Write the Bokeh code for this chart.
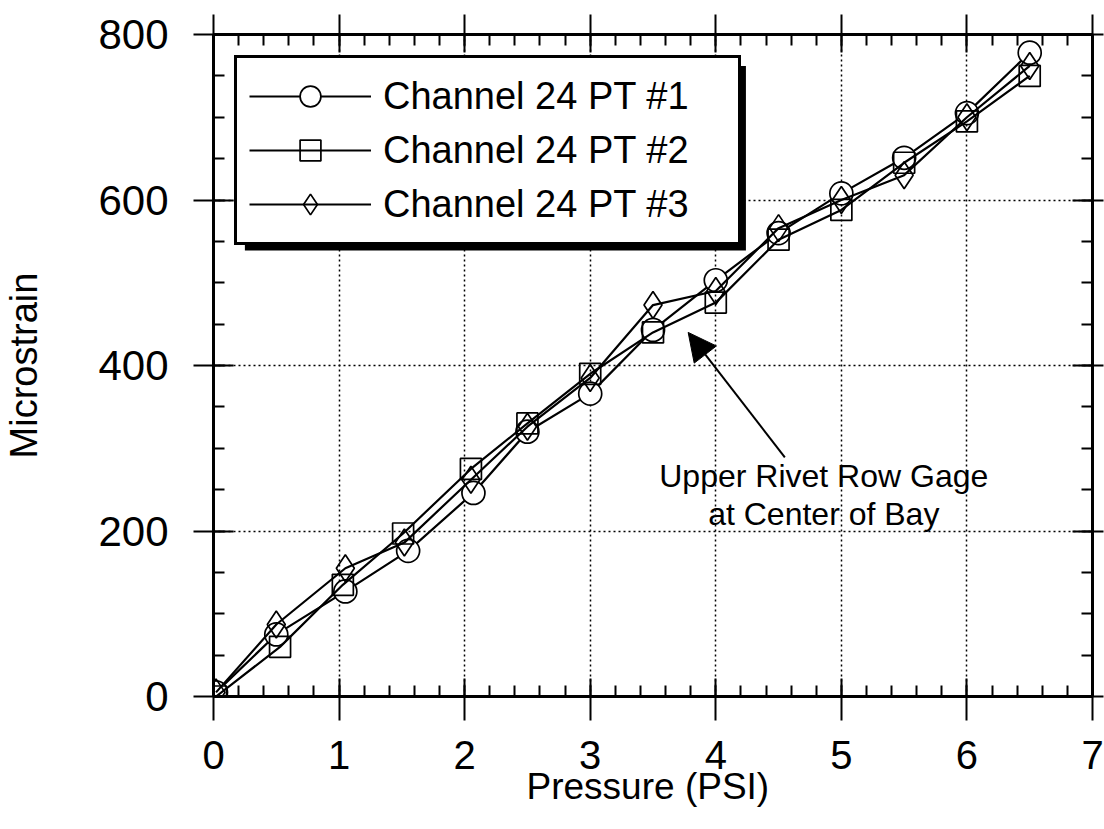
import numpy as np
from bokeh.plotting import figure
from bokeh.models import (LinearAxis, SingleIntervalTicker, Range1d, Legend, LegendItem,
                          Arrow, NormalHead, BoxAnnotation, Label, Grid, CustomJSTickFormatter)
from bokeh.embed import file_html
from bokeh.resources import INLINE

FONT = "Liberation Sans"

# ---- data ----
series_labels = ["Channel 24 PT #1", "Channel 24 PT #2", "Channel 24 PT #3"]

pressure_pt1 = [0.02, 0.50, 1.05, 1.55, 2.07, 2.50, 3.00, 3.50, 4.00, 4.50, 5.00, 5.50, 6.00, 6.50]
strain_pt1 = [5, 75, 127, 176, 246, 320, 366, 443, 503, 560, 608, 651, 705, 778]

pressure_pt2 = [0.02, 0.53, 1.03, 1.51, 2.05, 2.50, 3.00, 3.50, 4.00, 4.50, 5.00, 5.50, 6.00, 6.50]
strain_pt2 = [0, 60, 135, 197, 275, 330, 390, 440, 476, 552, 588, 645, 695, 750]

pressure_pt3 = [0.02, 0.50, 1.05, 1.52, 2.05, 2.50, 3.00, 3.50, 4.00, 4.50, 5.00, 5.50, 6.00, 6.50]
strain_pt3 = [5, 87, 155, 186, 262, 326, 385, 473, 490, 566, 600, 630, 700, 762]

x_major = 1
y_major = 200

annotation_lines = ["Upper Rivet Row Gage", "at Center of Bay"]

p = figure(width=1104, height=829, output_backend="svg", toolbar_location=None,
           x_range=Range1d(0, 7), y_range=Range1d(0, 800),
           x_axis_type=None, y_axis_type=None,
           min_border_left=213, min_border_right=12, min_border_top=34, min_border_bottom=133)
p.outline_line_color = "black"
p.outline_line_width = 3
p.background_fill_color = "white"
p.border_fill_color = "white"

xt = SingleIntervalTicker(interval=x_major, num_minor_ticks=5)
yt = SingleIntervalTicker(interval=y_major, num_minor_ticks=4)
blank = CustomJSTickFormatter(code="return '';")


def style_axis(ax, tin, tout):
    ax.axis_line_width = 3
    ax.axis_line_color = "black"
    ax.major_tick_line_width = 2
    ax.minor_tick_line_width = 2
    ax.major_tick_in = tin
    ax.major_tick_out = tout
    ax.minor_tick_in = 11
    ax.minor_tick_out = 0
    ax.major_label_text_font = FONT
    ax.major_label_text_color = "black"
    ax.axis_label_text_font = FONT
    ax.axis_label_text_font_style = "normal"
    ax.axis_label_text_color = "black"


bottom = LinearAxis(ticker=xt, axis_label="Pressure  (PSI)")
style_axis(bottom, 18, 24)
bottom.major_label_text_font_size = "40px"
bottom.major_label_standoff = 20
bottom.axis_label_text_font_size = "37px"
bottom.axis_label_standoff = -6
p.add_layout(bottom, "below")

left = LinearAxis(ticker=yt, axis_label="Microstrain")
style_axis(left, 20, 20)
left.major_label_text_font_size = "42px"
left.major_label_standoff = 25
left.axis_label_text_font_size = "38px"
left.axis_label_standoff = 50
p.add_layout(left, "left")

top = LinearAxis(ticker=xt, formatter=blank)
style_axis(top, 18, 20)
top.major_label_text_font_size = "1px"
top.major_label_standoff = 0
p.add_layout(top, "above")

right = LinearAxis(ticker=yt, formatter=blank)
style_axis(right, 20, 11)
right.major_label_text_font_size = "1px"
right.major_label_standoff = 0
p.add_layout(right, "right")

p.add_layout(Grid(dimension=0, ticker=xt, grid_line_color="black",
                  grid_line_dash="2 3", grid_line_width=1.5))
p.add_layout(Grid(dimension=1, ticker=yt, grid_line_color="black",
                  grid_line_dash="2 3", grid_line_width=1.5))

# ---- series ----
r1l = p.line(pressure_pt1, strain_pt1, line_color="black", line_width=2.2)
r1m = p.scatter(pressure_pt1, strain_pt1, marker="circle", size=23,
                fill_color="white", line_color="black", line_width=1.7)
r2l = p.line(pressure_pt2, strain_pt2, line_color="black", line_width=2.2)
r2m = p.scatter(pressure_pt2, strain_pt2, marker="square", size=21,
                fill_color=None, line_color="black", line_width=1.7)
r3l = p.line(pressure_pt3, strain_pt3, line_color="black", line_width=2.2)
r3m = p.scatter(pressure_pt3, strain_pt3, marker="diamond", size=27,
                fill_color=None, line_color="black", line_width=1.7)

# ---- annotation ----
p.add_layout(Arrow(end=NormalHead(size=28, fill_color="black", line_color="black"),
                   x_start=4.55, y_start=289, x_end=3.78, y_end=440,
                   line_width=2, line_color="black"))
p.add_layout(Label(x=4.86, y=267, text=annotation_lines[0], text_align="center",
                   text_baseline="middle", text_font=FONT, text_font_size="32px",
                   text_color="black"))
p.add_layout(Label(x=4.86, y=221, text=annotation_lines[1], text_align="center",
                   text_baseline="middle", text_font=FONT, text_font_size="32px",
                   text_color="black"))

# ---- legend with drop shadow ----
p.add_layout(BoxAnnotation(left=0.25, right=4.24, bottom=539, top=762,
                           fill_color="black", fill_alpha=1.0, line_alpha=0))

legend = Legend(items=[
    LegendItem(label=series_labels[0], renderers=[r1l, r1m]),
    LegendItem(label=series_labels[1], renderers=[r2l, r2m]),
    LegendItem(label=series_labels[2], renderers=[r3l, r3m]),
], location="top_left")
legend.label_text_font = FONT
legend.label_text_font_size = "38px"
legend.label_text_color = "black"
legend.glyph_width = 122
legend.glyph_height = 52
legend.label_height = 40
legend.label_width = 343
legend.label_standoff = 12
legend.spacing = 2
legend.padding = 12
legend.margin = 21
legend.border_line_color = "black"
legend.border_line_alpha = 1.0
legend.border_line_width = 3
legend.background_fill_color = "white"
legend.background_fill_alpha = 1.0
p.add_layout(legend)

open("out.html", "w").write(file_html(p, INLINE))
